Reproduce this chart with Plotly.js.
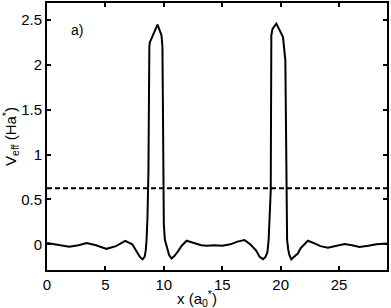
<!DOCTYPE html>
<html>
<head>
<meta charset="utf-8">
<script src="https://cdn.plot.ly/plotly-3.0.1.min.js"></script>
<style>
  html, body { margin: 0; padding: 0; background: #fff; }
  #chart { width: 391px; height: 308px; }
</style>
</head>
<body>
<div id="chart"></div>
<script>
'use strict'

// position along the wire, x (a0*)
var xPos = [0, 0.8, 1.9, 2.7, 3.4, 4.2, 5.1, 5.9, 6.7, 7.3, 7.7, 7.95, 8.18, 8.35, 8.45, 8.52, 8.6, 8.68,
    8.76, 8.8, 9.46, 9.8, 9.88, 9.94, 10.0, 10.09, 10.25, 10.45, 10.66, 10.9, 11.2, 11.5, 11.95, 12.6,
    13.2, 13.7, 14.3, 15.0, 15.7, 16.3, 16.9, 17.4, 17.9, 18.2, 18.49, 18.7, 18.86, 18.97, 19.07, 19.15,
    19.2, 19.3, 19.63, 20.06, 20.2, 20.4, 20.49, 20.55, 20.65, 20.75, 20.91, 21.15, 21.48, 21.7, 22.0,
    22.33, 22.9, 23.4, 24.04, 24.7, 25.47, 26.1, 26.75, 27.5, 28.2, 29.1];

// effective potential, Veff (Ha*)
var vEff = [0.015, 0.0, -0.027, -0.01, 0.015, -0.01, -0.05, -0.02, 0.038, 0.0, -0.08, -0.14, -0.167, -0.14,
    -0.07, 0.05, 0.3, 0.8, 2.2, 2.25, 2.45, 2.33, 2.2, 0.6, 0.22, 0.05, -0.04, -0.12, -0.158, -0.13, -0.08,
    -0.02, 0.04, 0.01, -0.01, -0.015, -0.01, -0.015, 0.0, 0.03, 0.048, 0.0, -0.07, -0.14, -0.165, -0.14,
    -0.09, 0.05, 0.3, 0.6, 2.33, 2.4, 2.46, 2.35, 2.31, 2.05, 0.6, 0.05, -0.06, -0.12, -0.167, -0.14,
    -0.1, -0.045, 0.0, 0.04, 0.01, -0.02, -0.038, -0.02, 0.003, -0.01, -0.03, -0.015, 0.0, 0.01];

// dashed reference level (Ha*)
var level = 0.624;

var xTicks = [0, 5, 10, 15, 20, 25];
var yTicks = [0, 0.5, 1, 1.5, 2, 2.5];
var yTickText = ['0', '0.5', '1', '1.5', '2', '2.5'];

var xEnds = [xPos[0], xPos[xPos.length - 1]];

var traceV = {
    x: xPos,
    y: vEff,
    mode: 'lines',
    line: { color: '#000', width: 2 },
    hoverinfo: 'skip'
};

var traceLevel = {
    x: xEnds,
    y: [level, level],
    mode: 'lines',
    line: { color: '#000', width: 2, dash: '5px,3px' },
    hoverinfo: 'skip'
};

var axisStyle = {
    showline: true,
    linecolor: '#000',
    linewidth: 2,
    mirror: 'ticks',
    ticks: 'inside',
    ticklen: 4,
    tickwidth: 2,
    tickcolor: '#000',
    showgrid: false,
    zeroline: false,
    tickfont: { size: 15, color: '#000' }
};

var layout = {
    width: 391,
    height: 308,
    margin: { l: 47, r: 4, t: 3, b: 38 },
    paper_bgcolor: '#fff',
    plot_bgcolor: '#fff',
    showlegend: false,
    font: { family: 'Liberation Sans, Arial, sans-serif', color: '#000' },
    xaxis: Object.assign({}, axisStyle, {
        range: [0, 29.1],
        tickvals: xTicks
    }),
    yaxis: Object.assign({}, axisStyle, {
        range: [-0.286, 2.69],
        tickvals: yTicks,
        ticktext: yTickText,
        title: { text: 'V<sub>eff</sub> (Ha<sup>*</sup>)', font: { size: 15 }, standoff: 6 }
    }),
    annotations: [{
        text: 'a)',
        xref: 'paper', yref: 'paper',
        x: 0.065, y: 0.9,
        xanchor: 'left', yanchor: 'middle',
        showarrow: false,
        font: { size: 14, color: '#000' }
    }, {
        // x-axis label, placed like the original (left of centre, low)
        text: 'x (a<sub>0</sub><sup>*</sup>)',
        xref: 'paper', yref: 'paper',
        x: 0.441, y: -0.105,
        xanchor: 'center', yanchor: 'middle',
        showarrow: false,
        font: { size: 15, color: '#000' }
    }]
};

Plotly.newPlot('chart', [traceV, traceLevel], layout, { displayModeBar: false, staticPlot: true });
</script>
</body>
</html>
